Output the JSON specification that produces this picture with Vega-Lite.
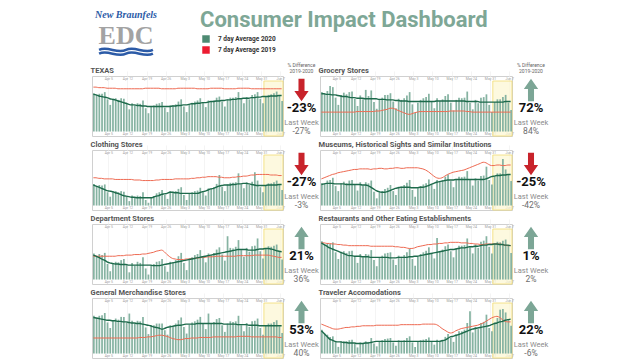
{
"$schema": "https://vega.github.io/schema/vega-lite/v6.json",
"padding": {"left": 90, "top": 0, "right": 0, "bottom": 0},
"background": "white",
"spacing": 3,
"config": {
 "font": "Roboto",
 "view": {"stroke": "#d0d0d0", "strokeWidth": 1},
 "title": {"fontSize": 7.5, "fontWeight": "bold", "color": "#555555", "anchor": "start", "offset": 2, "font": "Roboto"},
 "axisY": {"disable": true},
 "axisX": {"domain": false, "ticks": false, "labelFontSize": 3.5, "labelColor": "#a0a0a0", "labelPadding": 0.5, "offset": -5, "labelFlush": false, "labelOverlap": false, "gridColor": "#ececec", "gridWidth": 0.6},
 "bar": {"color": "#86b3a2"},
 "line": {"interpolate": "monotone"}
},
"datasets": {
"tx": [
{"d":"2020-03-30","b":69,"g":67,"r":80},{"d":"2020-03-31","b":66,"g":66,"r":80},{"d":"2020-04-01","b":68,"g":64,"r":79},{"d":"2020-04-02","b":68,"g":63,"r":79},{"d":"2020-04-03","b":71,"g":62,"r":79},{"d":"2020-04-04","b":58,"g":61,"r":78},{"d":"2020-04-05","b":48,"g":59,"r":78},
{"d":"2020-04-06","b":59,"g":58,"r":78},{"d":"2020-04-07","b":60,"g":57,"r":78},{"d":"2020-04-08","b":57,"g":55,"r":77},{"d":"2020-04-09","b":60,"g":54,"r":77},{"d":"2020-04-10","b":59,"g":52,"r":77},{"d":"2020-04-11","b":50,"g":51,"r":77},{"d":"2020-04-12","b":40,"g":49,"r":77},
{"d":"2020-04-13","b":51,"g":48,"r":77},{"d":"2020-04-14","b":47,"g":48,"r":77},{"d":"2020-04-15","b":51,"g":47,"r":77},{"d":"2020-04-16","b":50,"g":47,"r":77},{"d":"2020-04-17","b":56,"g":46,"r":77},{"d":"2020-04-18","b":42,"g":46,"r":78},{"d":"2020-04-19","b":33,"g":45,"r":78},
{"d":"2020-04-20","b":45,"g":45,"r":78},{"d":"2020-04-21","b":47,"g":45,"r":78},{"d":"2020-04-22","b":50,"g":45,"r":78},{"d":"2020-04-23","b":51,"g":45,"r":78},{"d":"2020-04-24","b":53,"g":45,"r":77},{"d":"2020-04-25","b":43,"g":45,"r":77},{"d":"2020-04-26","b":35,"g":45,"r":77},
{"d":"2020-04-27","b":47,"g":45,"r":77},{"d":"2020-04-28","b":47,"g":46,"r":77},{"d":"2020-04-29","b":49,"g":46,"r":77},{"d":"2020-04-30","b":54,"g":47,"r":78},{"d":"2020-05-01","b":58,"g":47,"r":78},{"d":"2020-05-02","b":45,"g":48,"r":78},{"d":"2020-05-03","b":35,"g":48,"r":78},
{"d":"2020-05-04","b":48,"g":49,"r":78},{"d":"2020-05-05","b":52,"g":50,"r":78},{"d":"2020-05-06","b":54,"g":50,"r":78},{"d":"2020-05-07","b":56,"g":51,"r":77},{"d":"2020-05-08","b":60,"g":51,"r":77},{"d":"2020-05-09","b":52,"g":52,"r":77},{"d":"2020-05-10","b":44,"g":52,"r":77},
{"d":"2020-05-11","b":56,"g":53,"r":77},{"d":"2020-05-12","b":54,"g":54,"r":78},{"d":"2020-05-13","b":56,"g":54,"r":78},{"d":"2020-05-14","b":61,"g":55,"r":78},{"d":"2020-05-15","b":63,"g":55,"r":78},{"d":"2020-05-16","b":54,"g":56,"r":78},{"d":"2020-05-17","b":45,"g":56,"r":77},
{"d":"2020-05-18","b":58,"g":57,"r":77},{"d":"2020-05-19","b":61,"g":57,"r":77},{"d":"2020-05-20","b":61,"g":58,"r":77},{"d":"2020-05-21","b":62,"g":58,"r":77},{"d":"2020-05-22","b":71,"g":59,"r":78},{"d":"2020-05-23","b":58,"g":59,"r":78},{"d":"2020-05-24","b":51,"g":60,"r":78},
{"d":"2020-05-25","b":62,"g":60,"r":78},{"d":"2020-05-26","b":58,"g":60,"r":78},{"d":"2020-05-27","b":66,"g":61,"r":77},{"d":"2020-05-28","b":67,"g":61,"r":77},{"d":"2020-05-29","b":71,"g":62,"r":77},{"d":"2020-05-30","b":59,"g":62,"r":77},{"d":"2020-05-31","b":51,"g":63,"r":77},
{"d":"2020-06-01","b":63,"g":63,"r":77},{"d":"2020-06-02","b":66,"g":63,"r":77},{"d":"2020-06-03","b":67,"g":64,"r":77},{"d":"2020-06-04","b":69,"g":64,"r":77},{"d":"2020-06-05","b":72,"g":64,"r":77},{"d":"2020-06-06","b":64,"g":65,"r":77},{"d":"2020-06-07","b":55,"g":65,"r":77}
],
"gr": [
{"d":"2020-03-30","b":71,"g":68,"r":35},{"d":"2020-03-31","b":68,"g":68,"r":35},{"d":"2020-04-01","b":73,"g":67,"r":35},{"d":"2020-04-02","b":82,"g":67,"r":35},{"d":"2020-04-03","b":80,"g":66,"r":35},{"d":"2020-04-04","b":61,"g":66,"r":35},{"d":"2020-04-05","b":48,"g":65,"r":35},
{"d":"2020-04-06","b":66,"g":64,"r":35},{"d":"2020-04-07","b":70,"g":63,"r":35},{"d":"2020-04-08","b":67,"g":63,"r":35},{"d":"2020-04-09","b":71,"g":62,"r":35},{"d":"2020-04-10","b":72,"g":61,"r":35},{"d":"2020-04-11","b":59,"g":61,"r":35},{"d":"2020-04-12","b":46,"g":60,"r":36},
{"d":"2020-04-13","b":65,"g":60,"r":36},{"d":"2020-04-14","b":58,"g":60,"r":36},{"d":"2020-04-15","b":75,"g":59,"r":36},{"d":"2020-04-16","b":64,"g":59,"r":36},{"d":"2020-04-17","b":74,"g":59,"r":36},{"d":"2020-04-18","b":53,"g":59,"r":36},{"d":"2020-04-19","b":41,"g":59,"r":37},
{"d":"2020-04-20","b":58,"g":58,"r":37},{"d":"2020-04-21","b":61,"g":58,"r":38},{"d":"2020-04-22","b":66,"g":58,"r":39},{"d":"2020-04-23","b":66,"g":57,"r":40},{"d":"2020-04-24","b":69,"g":57,"r":42},{"d":"2020-04-25","b":54,"g":57,"r":42},{"d":"2020-04-26","b":42,"g":56,"r":40},
{"d":"2020-04-27","b":59,"g":56,"r":38},{"d":"2020-04-28","b":57,"g":55,"r":36},{"d":"2020-04-29","b":60,"g":55,"r":34},{"d":"2020-04-30","b":65,"g":55,"r":32},{"d":"2020-05-01","b":71,"g":54,"r":31},{"d":"2020-05-02","b":49,"g":54,"r":32},{"d":"2020-05-03","b":34,"g":54,"r":34},
{"d":"2020-05-04","b":52,"g":54,"r":35},{"d":"2020-05-05","b":57,"g":54,"r":36},{"d":"2020-05-06","b":60,"g":54,"r":36},{"d":"2020-05-07","b":62,"g":54,"r":36},{"d":"2020-05-08","b":68,"g":54,"r":36},{"d":"2020-05-09","b":54,"g":54,"r":36},{"d":"2020-05-10","b":42,"g":54,"r":36},
{"d":"2020-05-11","b":60,"g":55,"r":36},{"d":"2020-05-12","b":55,"g":55,"r":36},{"d":"2020-05-13","b":58,"g":55,"r":36},{"d":"2020-05-14","b":64,"g":55,"r":36},{"d":"2020-05-15","b":67,"g":55,"r":36},{"d":"2020-05-16","b":52,"g":55,"r":37},{"d":"2020-05-17","b":38,"g":55,"r":37},
{"d":"2020-05-18","b":57,"g":55,"r":37},{"d":"2020-05-19","b":61,"g":55,"r":37},{"d":"2020-05-20","b":60,"g":55,"r":37},{"d":"2020-05-21","b":61,"g":55,"r":37},{"d":"2020-05-22","b":72,"g":54,"r":36},{"d":"2020-05-23","b":52,"g":54,"r":36},{"d":"2020-05-24","b":40,"g":54,"r":35},
{"d":"2020-05-25","b":57,"g":54,"r":35},{"d":"2020-05-26","b":51,"g":54,"r":35},{"d":"2020-05-27","b":61,"g":53,"r":35},{"d":"2020-05-28","b":62,"g":53,"r":35},{"d":"2020-05-29","b":67,"g":53,"r":35},{"d":"2020-05-30","b":48,"g":53,"r":35},{"d":"2020-05-31","b":35,"g":53,"r":35},
{"d":"2020-06-01","b":53,"g":53,"r":35},{"d":"2020-06-02","b":58,"g":53,"r":35},{"d":"2020-06-03","b":58,"g":53,"r":35},{"d":"2020-06-04","b":62,"g":53,"r":35},{"d":"2020-06-05","b":66,"g":54,"r":35},{"d":"2020-06-06","b":52,"g":54,"r":35},{"d":"2020-06-07","b":39,"g":54,"r":35}
],
"cl": [
{"d":"2020-03-30","b":39,"g":37,"r":50},{"d":"2020-03-31","b":35,"g":35,"r":50},{"d":"2020-04-01","b":37,"g":33,"r":49},{"d":"2020-04-02","b":36,"g":31,"r":49},{"d":"2020-04-03","b":38,"g":29,"r":48},{"d":"2020-04-04","b":24,"g":27,"r":48},{"d":"2020-04-05","b":16,"g":26,"r":48},
{"d":"2020-04-06","b":26,"g":25,"r":48},{"d":"2020-04-07","b":26,"g":23,"r":47},{"d":"2020-04-08","b":24,"g":22,"r":47},{"d":"2020-04-09","b":26,"g":20,"r":47},{"d":"2020-04-10","b":25,"g":18,"r":47},{"d":"2020-04-11","b":16,"g":17,"r":47},{"d":"2020-04-12","b":8,"g":16,"r":47},
{"d":"2020-04-13","b":18,"g":15,"r":47},{"d":"2020-04-14","b":14,"g":15,"r":46},{"d":"2020-04-15","b":18,"g":14,"r":46},{"d":"2020-04-16","b":17,"g":14,"r":46},{"d":"2020-04-17","b":24,"g":14,"r":45},{"d":"2020-04-18","b":10,"g":14,"r":45},{"d":"2020-04-19","b":5,"g":14,"r":45},
{"d":"2020-04-20","b":14,"g":14,"r":45},{"d":"2020-04-21","b":17,"g":15,"r":45},{"d":"2020-04-22","b":22,"g":17,"r":46},{"d":"2020-04-23","b":24,"g":18,"r":46},{"d":"2020-04-24","b":28,"g":20,"r":47},{"d":"2020-04-25","b":19,"g":21,"r":47},{"d":"2020-04-26","b":12,"g":22,"r":47},
{"d":"2020-04-27","b":26,"g":24,"r":47},{"d":"2020-04-28","b":25,"g":24,"r":47},{"d":"2020-04-29","b":26,"g":23,"r":48},{"d":"2020-04-30","b":30,"g":23,"r":48},{"d":"2020-05-01","b":33,"g":22,"r":48},{"d":"2020-05-02","b":19,"g":22,"r":48},{"d":"2020-05-03","b":10,"g":22,"r":48},
{"d":"2020-05-04","b":21,"g":22,"r":48},{"d":"2020-05-05","b":24,"g":22,"r":49},{"d":"2020-05-06","b":26,"g":22,"r":49},{"d":"2020-05-07","b":27,"g":22,"r":50},{"d":"2020-05-08","b":32,"g":23,"r":50},{"d":"2020-05-09","b":25,"g":25,"r":51},{"d":"2020-05-10","b":18,"g":26,"r":51},
{"d":"2020-05-11","b":31,"g":28,"r":52},{"d":"2020-05-12","b":30,"g":30,"r":52},{"d":"2020-05-13","b":33,"g":31,"r":52},{"d":"2020-05-14","b":39,"g":33,"r":52},{"d":"2020-05-15","b":55,"g":35,"r":51},{"d":"2020-05-16","b":34,"g":36,"r":51},{"d":"2020-05-17","b":26,"g":37,"r":50},
{"d":"2020-05-18","b":38,"g":37,"r":50},{"d":"2020-05-19","b":41,"g":37,"r":50},{"d":"2020-05-20","b":41,"g":38,"r":51},{"d":"2020-05-21","b":42,"g":38,"r":51},{"d":"2020-05-22","b":58,"g":39,"r":52},{"d":"2020-05-23","b":38,"g":39,"r":52},{"d":"2020-05-24","b":31,"g":40,"r":53},
{"d":"2020-05-25","b":42,"g":40,"r":53},{"d":"2020-05-26","b":37,"g":39,"r":54},{"d":"2020-05-27","b":43,"g":38,"r":55},{"d":"2020-05-28","b":60,"g":37,"r":55},{"d":"2020-05-29","b":45,"g":36,"r":56},{"d":"2020-05-30","b":33,"g":36,"r":56},{"d":"2020-05-31","b":24,"g":36,"r":56},
{"d":"2020-06-01","b":36,"g":36,"r":56},{"d":"2020-06-02","b":40,"g":37,"r":56},{"d":"2020-06-03","b":40,"g":37,"r":55},{"d":"2020-06-04","b":42,"g":37,"r":55},{"d":"2020-06-05","b":45,"g":37,"r":55},{"d":"2020-06-06","b":37,"g":38,"r":54},{"d":"2020-06-07","b":28,"g":38,"r":54}
],
"mu": [
{"d":"2020-03-30","b":40,"g":38,"r":48},{"d":"2020-03-31","b":39,"g":39,"r":50},{"d":"2020-04-01","b":45,"g":40,"r":52},{"d":"2020-04-02","b":46,"g":40,"r":54},{"d":"2020-04-03","b":50,"g":40,"r":56},{"d":"2020-04-04","b":35,"g":39,"r":57},{"d":"2020-04-05","b":26,"g":39,"r":59},
{"d":"2020-04-06","b":40,"g":39,"r":60},{"d":"2020-04-07","b":43,"g":39,"r":61},{"d":"2020-04-08","b":40,"g":38,"r":62},{"d":"2020-04-09","b":45,"g":38,"r":63},{"d":"2020-04-10","b":46,"g":38,"r":64},{"d":"2020-04-11","b":37,"g":38,"r":65},{"d":"2020-04-12","b":27,"g":38,"r":65},
{"d":"2020-04-13","b":42,"g":38,"r":66},{"d":"2020-04-14","b":36,"g":37,"r":66},{"d":"2020-04-15","b":42,"g":37,"r":66},{"d":"2020-04-16","b":40,"g":36,"r":66},{"d":"2020-04-17","b":45,"g":33,"r":65},{"d":"2020-04-18","b":25,"g":30,"r":66},{"d":"2020-04-19","b":13,"g":27,"r":66},
{"d":"2020-04-20","b":25,"g":25,"r":67},{"d":"2020-04-21","b":26,"g":24,"r":67},{"d":"2020-04-22","b":30,"g":24,"r":66},{"d":"2020-04-23","b":32,"g":25,"r":66},{"d":"2020-04-24","b":37,"g":27,"r":67},{"d":"2020-04-25","b":26,"g":29,"r":67},{"d":"2020-04-26","b":19,"g":31,"r":68},
{"d":"2020-04-27","b":34,"g":32,"r":68},{"d":"2020-04-28","b":34,"g":33,"r":67},{"d":"2020-04-29","b":37,"g":33,"r":67},{"d":"2020-04-30","b":41,"g":33,"r":68},{"d":"2020-05-01","b":46,"g":33,"r":68},{"d":"2020-05-02","b":28,"g":32,"r":68},{"d":"2020-05-03","b":16,"g":32,"r":68},
{"d":"2020-05-04","b":31,"g":32,"r":68},{"d":"2020-05-05","b":35,"g":33,"r":67},{"d":"2020-05-06","b":38,"g":33,"r":66},{"d":"2020-05-07","b":40,"g":34,"r":64},{"d":"2020-05-08","b":47,"g":36,"r":61},{"d":"2020-05-09","b":38,"g":38,"r":57},{"d":"2020-05-10","b":30,"g":40,"r":53},
{"d":"2020-05-11","b":46,"g":42,"r":50},{"d":"2020-05-12","b":43,"g":43,"r":49},{"d":"2020-05-13","b":46,"g":44,"r":50},{"d":"2020-05-14","b":52,"g":45,"r":53},{"d":"2020-05-15","b":56,"g":46,"r":56},{"d":"2020-05-16","b":44,"g":46,"r":58},{"d":"2020-05-17","b":33,"g":46,"r":60},
{"d":"2020-05-18","b":48,"g":47,"r":61},{"d":"2020-05-19","b":52,"g":47,"r":62},{"d":"2020-05-20","b":51,"g":47,"r":63},{"d":"2020-05-21","b":52,"g":47,"r":64},{"d":"2020-05-22","b":62,"g":47,"r":66},{"d":"2020-05-23","b":46,"g":47,"r":68},{"d":"2020-05-24","b":36,"g":47,"r":70},
{"d":"2020-05-25","b":49,"g":47,"r":72},{"d":"2020-05-26","b":45,"g":47,"r":74},{"d":"2020-05-27","b":53,"g":47,"r":76},{"d":"2020-05-28","b":54,"g":47,"r":78},{"d":"2020-05-29","b":70,"g":48,"r":77},{"d":"2020-05-30","b":46,"g":50,"r":74},{"d":"2020-05-31","b":38,"g":52,"r":72},
{"d":"2020-06-01","b":53,"g":53,"r":72},{"d":"2020-06-02","b":58,"g":54,"r":73},{"d":"2020-06-03","b":58,"g":54,"r":73},{"d":"2020-06-04","b":84,"g":55,"r":72},{"d":"2020-06-05","b":65,"g":55,"r":72},{"d":"2020-06-06","b":55,"g":56,"r":73},{"d":"2020-06-07","b":44,"g":56,"r":73}
],
"de": [
{"d":"2020-03-30","b":47,"g":44,"r":42},{"d":"2020-03-31","b":42,"g":42,"r":42},{"d":"2020-04-01","b":46,"g":40,"r":42},{"d":"2020-04-02","b":44,"g":37,"r":42},{"d":"2020-04-03","b":48,"g":35,"r":42},{"d":"2020-04-04","b":28,"g":32,"r":42},{"d":"2020-04-05","b":15,"g":30,"r":42},
{"d":"2020-04-06","b":30,"g":29,"r":42},{"d":"2020-04-07","b":32,"g":28,"r":42},{"d":"2020-04-08","b":31,"g":28,"r":43},{"d":"2020-04-09","b":35,"g":27,"r":43},{"d":"2020-04-10","b":37,"g":27,"r":43},{"d":"2020-04-11","b":26,"g":27,"r":44},{"d":"2020-04-12","b":13,"g":26,"r":44},
{"d":"2020-04-13","b":30,"g":26,"r":44},{"d":"2020-04-14","b":25,"g":26,"r":45},{"d":"2020-04-15","b":32,"g":26,"r":45},{"d":"2020-04-16","b":30,"g":26,"r":45},{"d":"2020-04-17","b":40,"g":26,"r":46},{"d":"2020-04-18","b":20,"g":26,"r":46},{"d":"2020-04-19","b":9,"g":26,"r":47},
{"d":"2020-04-20","b":26,"g":26,"r":48},{"d":"2020-04-21","b":28,"g":25,"r":49},{"d":"2020-04-22","b":32,"g":25,"r":51},{"d":"2020-04-23","b":33,"g":25,"r":52},{"d":"2020-04-24","b":37,"g":26,"r":53},{"d":"2020-04-25","b":24,"g":27,"r":50},{"d":"2020-04-26","b":14,"g":28,"r":45},
{"d":"2020-04-27","b":32,"g":29,"r":41},{"d":"2020-04-28","b":31,"g":30,"r":38},{"d":"2020-04-29","b":35,"g":31,"r":37},{"d":"2020-04-30","b":42,"g":32,"r":36},{"d":"2020-05-01","b":48,"g":33,"r":36},{"d":"2020-05-02","b":30,"g":34,"r":36},{"d":"2020-05-03","b":17,"g":35,"r":37},
{"d":"2020-05-04","b":35,"g":36,"r":37},{"d":"2020-05-05","b":40,"g":37,"r":38},{"d":"2020-05-06","b":44,"g":38,"r":38},{"d":"2020-05-07","b":46,"g":39,"r":39},{"d":"2020-05-08","b":53,"g":40,"r":39},{"d":"2020-05-09","b":41,"g":41,"r":40},{"d":"2020-05-10","b":31,"g":42,"r":40},
{"d":"2020-05-11","b":47,"g":43,"r":41},{"d":"2020-05-12","b":44,"g":44,"r":41},{"d":"2020-05-13","b":48,"g":45,"r":41},{"d":"2020-05-14","b":54,"g":46,"r":42},{"d":"2020-05-15","b":58,"g":47,"r":42},{"d":"2020-05-16","b":45,"g":48,"r":42},{"d":"2020-05-17","b":34,"g":49,"r":42},
{"d":"2020-05-18","b":78,"g":50,"r":42},{"d":"2020-05-19","b":57,"g":51,"r":42},{"d":"2020-05-20","b":56,"g":52,"r":42},{"d":"2020-05-21","b":59,"g":53,"r":42},{"d":"2020-05-22","b":71,"g":54,"r":43},{"d":"2020-05-23","b":53,"g":54,"r":43},{"d":"2020-05-24","b":41,"g":54,"r":43},
{"d":"2020-05-25","b":57,"g":54,"r":43},{"d":"2020-05-26","b":50,"g":53,"r":43},{"d":"2020-05-27","b":60,"g":53,"r":43},{"d":"2020-05-28","b":61,"g":53,"r":44},{"d":"2020-05-29","b":74,"g":54,"r":44},{"d":"2020-05-30","b":51,"g":55,"r":44},{"d":"2020-05-31","b":38,"g":55,"r":44},
{"d":"2020-06-01","b":56,"g":56,"r":44},{"d":"2020-06-02","b":60,"g":56,"r":44},{"d":"2020-06-03","b":59,"g":55,"r":43},{"d":"2020-06-04","b":61,"g":54,"r":42},{"d":"2020-06-05","b":63,"g":52,"r":41},{"d":"2020-06-06","b":50,"g":51,"r":40},{"d":"2020-06-07","b":36,"g":50,"r":40}
],
"re": [
{"d":"2020-03-30","b":69,"g":66,"r":66},{"d":"2020-03-31","b":63,"g":63,"r":66},{"d":"2020-04-01","b":65,"g":60,"r":65},{"d":"2020-04-02","b":64,"g":57,"r":65},{"d":"2020-04-03","b":67,"g":55,"r":64},{"d":"2020-04-04","b":49,"g":53,"r":64},{"d":"2020-04-05","b":37,"g":51,"r":63},
{"d":"2020-04-06","b":50,"g":49,"r":63},{"d":"2020-04-07","b":51,"g":47,"r":62},{"d":"2020-04-08","b":48,"g":45,"r":62},{"d":"2020-04-09","b":51,"g":43,"r":61},{"d":"2020-04-10","b":52,"g":43,"r":61},{"d":"2020-04-11","b":41,"g":42,"r":61},{"d":"2020-04-12","b":30,"g":42,"r":61},
{"d":"2020-04-13","b":46,"g":42,"r":61},{"d":"2020-04-14","b":40,"g":41,"r":61},{"d":"2020-04-15","b":46,"g":41,"r":61},{"d":"2020-04-16","b":45,"g":41,"r":61},{"d":"2020-04-17","b":53,"g":40,"r":60},{"d":"2020-04-18","b":35,"g":40,"r":60},{"d":"2020-04-19","b":24,"g":40,"r":60},
{"d":"2020-04-20","b":40,"g":40,"r":60},{"d":"2020-04-21","b":43,"g":40,"r":60},{"d":"2020-04-22","b":47,"g":40,"r":60},{"d":"2020-04-23","b":48,"g":40,"r":60},{"d":"2020-04-24","b":49,"g":39,"r":60},{"d":"2020-04-25","b":36,"g":39,"r":60},{"d":"2020-04-26","b":26,"g":39,"r":59},
{"d":"2020-04-27","b":43,"g":40,"r":59},{"d":"2020-04-28","b":41,"g":40,"r":58},{"d":"2020-04-29","b":44,"g":40,"r":58},{"d":"2020-04-30","b":49,"g":40,"r":57},{"d":"2020-05-01","b":55,"g":41,"r":56},{"d":"2020-05-02","b":37,"g":41,"r":56},{"d":"2020-05-03","b":25,"g":42,"r":57},
{"d":"2020-05-04","b":41,"g":42,"r":59},{"d":"2020-05-05","b":46,"g":43,"r":60},{"d":"2020-05-06","b":49,"g":44,"r":61},{"d":"2020-05-07","b":52,"g":45,"r":62},{"d":"2020-05-08","b":58,"g":46,"r":63},{"d":"2020-05-09","b":47,"g":47,"r":63},{"d":"2020-05-10","b":38,"g":48,"r":64},
{"d":"2020-05-11","b":75,"g":49,"r":64},{"d":"2020-05-12","b":50,"g":50,"r":65},{"d":"2020-05-13","b":54,"g":51,"r":65},{"d":"2020-05-14","b":60,"g":52,"r":66},{"d":"2020-05-15","b":63,"g":53,"r":66},{"d":"2020-05-16","b":51,"g":54,"r":67},{"d":"2020-05-17","b":40,"g":54,"r":67},
{"d":"2020-05-18","b":56,"g":55,"r":67},{"d":"2020-05-19","b":61,"g":56,"r":67},{"d":"2020-05-20","b":61,"g":57,"r":66},{"d":"2020-05-21","b":62,"g":57,"r":66},{"d":"2020-05-22","b":74,"g":58,"r":66},{"d":"2020-05-23","b":58,"g":59,"r":65},{"d":"2020-05-24","b":47,"g":59,"r":65},
{"d":"2020-05-25","b":63,"g":60,"r":64},{"d":"2020-05-26","b":57,"g":60,"r":64},{"d":"2020-05-27","b":68,"g":61,"r":63},{"d":"2020-05-28","b":70,"g":62,"r":63},{"d":"2020-05-29","b":78,"g":62,"r":64},{"d":"2020-05-30","b":59,"g":63,"r":64},{"d":"2020-05-31","b":47,"g":63,"r":64},
{"d":"2020-06-01","b":64,"g":64,"r":64},{"d":"2020-06-02","b":68,"g":64,"r":64},{"d":"2020-06-03","b":67,"g":63,"r":64},{"d":"2020-06-04","b":70,"g":63,"r":63},{"d":"2020-06-05","b":72,"g":62,"r":62},{"d":"2020-06-06","b":61,"g":62,"r":61},{"d":"2020-06-07","b":48,"g":61,"r":61}
],
"gm": [
{"d":"2020-03-30","b":68,"g":65,"r":28},{"d":"2020-03-31","b":64,"g":64,"r":28},{"d":"2020-04-01","b":68,"g":63,"r":28},{"d":"2020-04-02","b":69,"g":62,"r":28},{"d":"2020-04-03","b":73,"g":61,"r":28},{"d":"2020-04-04","b":56,"g":60,"r":28},{"d":"2020-04-05","b":46,"g":60,"r":28},
{"d":"2020-04-06","b":60,"g":59,"r":28},{"d":"2020-04-07","b":63,"g":59,"r":28},{"d":"2020-04-08","b":61,"g":58,"r":28},{"d":"2020-04-09","b":66,"g":58,"r":28},{"d":"2020-04-10","b":66,"g":57,"r":28},{"d":"2020-04-11","b":56,"g":57,"r":28},{"d":"2020-04-12","b":72,"g":56,"r":28},
{"d":"2020-04-13","b":59,"g":55,"r":28},{"d":"2020-04-14","b":54,"g":55,"r":28},{"d":"2020-04-15","b":59,"g":54,"r":28},{"d":"2020-04-16","b":58,"g":54,"r":29},{"d":"2020-04-17","b":66,"g":53,"r":29},{"d":"2020-04-18","b":47,"g":52,"r":29},{"d":"2020-04-19","b":35,"g":51,"r":30},
{"d":"2020-04-20","b":50,"g":50,"r":30},{"d":"2020-04-21","b":51,"g":48,"r":31},{"d":"2020-04-22","b":54,"g":47,"r":32},{"d":"2020-04-23","b":54,"g":46,"r":33},{"d":"2020-04-24","b":54,"g":44,"r":33},{"d":"2020-04-25","b":42,"g":45,"r":32},{"d":"2020-04-26","b":34,"g":47,"r":31},
{"d":"2020-04-27","b":51,"g":48,"r":29},{"d":"2020-04-28","b":50,"g":49,"r":27},{"d":"2020-04-29","b":54,"g":50,"r":26},{"d":"2020-04-30","b":60,"g":51,"r":25},{"d":"2020-05-01","b":65,"g":51,"r":25},{"d":"2020-05-02","b":48,"g":52,"r":26},{"d":"2020-05-03","b":36,"g":53,"r":27},
{"d":"2020-05-04","b":52,"g":53,"r":27},{"d":"2020-05-05","b":56,"g":53,"r":28},{"d":"2020-05-06","b":58,"g":53,"r":28},{"d":"2020-05-07","b":61,"g":54,"r":28},{"d":"2020-05-08","b":66,"g":54,"r":29},{"d":"2020-05-09","b":54,"g":54,"r":29},{"d":"2020-05-10","b":44,"g":54,"r":29},
{"d":"2020-05-11","b":72,"g":54,"r":29},{"d":"2020-05-12","b":54,"g":54,"r":29},{"d":"2020-05-13","b":57,"g":54,"r":30},{"d":"2020-05-14","b":62,"g":54,"r":30},{"d":"2020-05-15","b":64,"g":54,"r":30},{"d":"2020-05-16","b":51,"g":54,"r":30},{"d":"2020-05-17","b":39,"g":53,"r":30},
{"d":"2020-05-18","b":54,"g":53,"r":30},{"d":"2020-05-19","b":58,"g":53,"r":30},{"d":"2020-05-20","b":57,"g":53,"r":30},{"d":"2020-05-21","b":58,"g":53,"r":30},{"d":"2020-05-22","b":68,"g":52,"r":31},{"d":"2020-05-23","b":51,"g":52,"r":31},{"d":"2020-05-24","b":40,"g":52,"r":31},
{"d":"2020-05-25","b":55,"g":52,"r":31},{"d":"2020-05-26","b":48,"g":51,"r":31},{"d":"2020-05-27","b":58,"g":51,"r":30},{"d":"2020-05-28","b":59,"g":51,"r":30},{"d":"2020-05-29","b":63,"g":51,"r":30},{"d":"2020-05-30","b":46,"g":50,"r":30},{"d":"2020-05-31","b":34,"g":50,"r":30},
{"d":"2020-06-01","b":50,"g":50,"r":30},{"d":"2020-06-02","b":54,"g":50,"r":30},{"d":"2020-06-03","b":54,"g":50,"r":30},{"d":"2020-06-04","b":57,"g":50,"r":30},{"d":"2020-06-05","b":60,"g":50,"r":30},{"d":"2020-06-06","b":49,"g":50,"r":29},{"d":"2020-06-07","b":37,"g":50,"r":29}
],
"tr": [
{"d":"2020-03-30","b":43,"g":41,"r":53},{"d":"2020-03-31","b":36,"g":36,"r":51},{"d":"2020-04-01","b":34,"g":31,"r":49},{"d":"2020-04-02","b":30,"g":26,"r":47},{"d":"2020-04-03","b":31,"g":24,"r":45},{"d":"2020-04-04","b":22,"g":22,"r":44},{"d":"2020-04-05","b":12,"g":21,"r":44},
{"d":"2020-04-06","b":22,"g":21,"r":45},{"d":"2020-04-07","b":22,"g":20,"r":46},{"d":"2020-04-08","b":22,"g":20,"r":47},{"d":"2020-04-09","b":24,"g":19,"r":47},{"d":"2020-04-10","b":25,"g":19,"r":48},{"d":"2020-04-11","b":18,"g":19,"r":48},{"d":"2020-04-12","b":11,"g":18,"r":49},
{"d":"2020-04-13","b":20,"g":18,"r":49},{"d":"2020-04-14","b":17,"g":18,"r":50},{"d":"2020-04-15","b":22,"g":19,"r":50},{"d":"2020-04-16","b":21,"g":19,"r":50},{"d":"2020-04-17","b":28,"g":20,"r":50},{"d":"2020-04-18","b":18,"g":21,"r":50},{"d":"2020-04-19","b":13,"g":22,"r":51},
{"d":"2020-04-20","b":22,"g":22,"r":51},{"d":"2020-04-21","b":24,"g":22,"r":51},{"d":"2020-04-22","b":26,"g":22,"r":51},{"d":"2020-04-23","b":27,"g":22,"r":51},{"d":"2020-04-24","b":28,"g":22,"r":51},{"d":"2020-04-25","b":20,"g":22,"r":51},{"d":"2020-04-26","b":14,"g":22,"r":51},
{"d":"2020-04-27","b":24,"g":22,"r":51},{"d":"2020-04-28","b":23,"g":22,"r":52},{"d":"2020-04-29","b":24,"g":22,"r":52},{"d":"2020-04-30","b":28,"g":22,"r":52},{"d":"2020-05-01","b":31,"g":22,"r":52},{"d":"2020-05-02","b":20,"g":22,"r":52},{"d":"2020-05-03","b":12,"g":22,"r":52},
{"d":"2020-05-04","b":21,"g":22,"r":52},{"d":"2020-05-05","b":24,"g":22,"r":52},{"d":"2020-05-06","b":25,"g":22,"r":53},{"d":"2020-05-07","b":26,"g":22,"r":53},{"d":"2020-05-08","b":29,"g":22,"r":53},{"d":"2020-05-09","b":22,"g":22,"r":53},{"d":"2020-05-10","b":16,"g":22,"r":53},
{"d":"2020-05-11","b":25,"g":22,"r":52},{"d":"2020-05-12","b":22,"g":22,"r":49},{"d":"2020-05-13","b":25,"g":23,"r":45},{"d":"2020-05-14","b":30,"g":24,"r":42},{"d":"2020-05-15","b":35,"g":27,"r":39},{"d":"2020-05-16","b":28,"g":30,"r":37},{"d":"2020-05-17","b":21,"g":31,"r":38},
{"d":"2020-05-18","b":34,"g":33,"r":41},{"d":"2020-05-19","b":40,"g":34,"r":43},{"d":"2020-05-20","b":40,"g":36,"r":45},{"d":"2020-05-21","b":43,"g":38,"r":46},{"d":"2020-05-22","b":55,"g":40,"r":47},{"d":"2020-05-23","b":76,"g":42,"r":48},{"d":"2020-05-24","b":38,"g":44,"r":49},
{"d":"2020-05-25","b":48,"g":45,"r":50},{"d":"2020-05-26","b":44,"g":46,"r":51},{"d":"2020-05-27","b":55,"g":47,"r":53},{"d":"2020-05-28","b":57,"g":48,"r":55},{"d":"2020-05-29","b":70,"g":49,"r":58},{"d":"2020-05-30","b":46,"g":50,"r":61},{"d":"2020-05-31","b":40,"g":52,"r":64},
{"d":"2020-06-01","b":56,"g":54,"r":66},{"d":"2020-06-02","b":64,"g":55,"r":67},{"d":"2020-06-03","b":79,"g":57,"r":65},{"d":"2020-06-04","b":80,"g":58,"r":61},{"d":"2020-06-05","b":74,"g":60,"r":58},{"d":"2020-06-06","b":62,"g":61,"r":57},{"d":"2020-06-07","b":50,"g":62,"r":57}
]
},
"vconcat": [
{
 "width": 460, "height": 59, "view": {"stroke": null},
 "data": {"values": [{}]},
 "layer": [
  {"mark": {"type": "text", "font": "Liberation Serif", "fontStyle": "italic", "fontWeight": "bold", "fontSize": 10, "color": "#2c5ba7"},
   "encoding": {"x": {"datum": 34, "type": "quantitative", "scale": {"domain": [0, 460]}, "axis": null}, "y": {"datum": 15, "type": "quantitative", "scale": {"domain": [0, 59], "reverse": true}}, "text": {"value": "New Braunfels"}}},
  {"mark": {"type": "text", "font": "Liberation Serif", "fontWeight": "bold", "fontSize": 26, "color": "#a3a3a3"},
   "encoding": {"x": {"datum": 34, "type": "quantitative", "scale": {"domain": [0, 460]}, "axis": null}, "y": {"datum": 36, "type": "quantitative", "scale": {"domain": [0, 59], "reverse": true}}, "text": {"value": "EDC"}}},
  {"mark": {"type": "point", "shape": "M-1,-0.04C-0.67,-0.2 -0.33,0.12 0,-0.04C0.33,-0.2 0.67,0.12 1,-0.04M-1,0.1C-0.67,-0.06 -0.33,0.26 0,0.1C0.33,-0.06 0.67,0.26 1,0.1", "size": 2900, "filled": false, "stroke": "#2c5ba7", "strokeWidth": 2.5, "opacity": 1},
   "encoding": {"x": {"datum": 34, "type": "quantitative", "scale": {"domain": [0, 460]}, "axis": null}, "y": {"datum": 51, "type": "quantitative", "scale": {"domain": [0, 59], "reverse": true}}}},
  {"mark": {"type": "text", "fontSize": 22, "fontWeight": "bold", "color": "#7ea796", "align": "left"},
   "encoding": {"x": {"datum": 108, "type": "quantitative", "scale": {"domain": [0, 460]}, "axis": null}, "y": {"datum": 20, "type": "quantitative", "scale": {"domain": [0, 59], "reverse": true}}, "text": {"value": "Consumer Impact Dashboard"}}},
  {"mark": {"type": "square", "size": 56, "color": "#4d8a72", "opacity": 1},
   "encoding": {"x": {"datum": 114, "type": "quantitative", "scale": {"domain": [0, 460]}, "axis": null}, "y": {"datum": 39, "type": "quantitative", "scale": {"domain": [0, 59], "reverse": true}}}},
  {"mark": {"type": "square", "size": 56, "color": "#ec1c31", "opacity": 1},
   "encoding": {"x": {"datum": 114, "type": "quantitative", "scale": {"domain": [0, 460]}, "axis": null}, "y": {"datum": 50, "type": "quantitative", "scale": {"domain": [0, 59], "reverse": true}}}},
  {"mark": {"type": "text", "fontSize": 6.5, "fontWeight": "bold", "color": "#333333", "align": "left"},
   "encoding": {"x": {"datum": 126, "type": "quantitative", "scale": {"domain": [0, 460]}, "axis": null}, "y": {"datum": 39, "type": "quantitative", "scale": {"domain": [0, 59], "reverse": true}}, "text": {"value": "7 day Average 2020"}}},
  {"mark": {"type": "text", "fontSize": 6.5, "fontWeight": "bold", "color": "#333333", "align": "left"},
   "encoding": {"x": {"datum": 126, "type": "quantitative", "scale": {"domain": [0, 460]}, "axis": null}, "y": {"datum": 50, "type": "quantitative", "scale": {"domain": [0, 59], "reverse": true}}, "text": {"value": "7 day Average 2019"}}}
 ]
},
{"hconcat": [
 {"data": {"name": "tx"}, "title": "TEXAS", "width": 191, "height": 60, "layer": [
  {"data": {"values": [{"s": "2020-06-01", "e": "2020-06-08"}]}, "mark": {"type": "rect", "fill": "#fcf6d2", "fillOpacity": 0.7, "stroke": "#f1dc72", "strokeWidth": 0.8}, "encoding": {"x": {"field": "s", "type": "temporal", "timeUnit": "utcyearmonthdate", "axis": null}, "x2": {"field": "e", "timeUnit": "utcyearmonthdate"}, "y": {"datum": -8, "type": "quantitative", "scale": {"domain": [-8, 100], "nice": false}}, "y2": {"datum": 91}}},
  {"mark": "bar", "encoding": {"x": {"field": "d", "type": "temporal", "timeUnit": "utcyearmonthdate", "axis": {"orient": "bottom", "title": null, "format": "%b %-d", "tickCount": {"interval": "week"}, "grid": true}}, "y": {"field": "b", "type": "quantitative", "scale": {"domain": [-8, 100], "nice": false}}}},
  {"mark": {"type": "line", "color": "#ee6a52", "strokeWidth": 1}, "encoding": {"x": {"field": "d", "type": "temporal", "timeUnit": "utcyearmonthdate", "bandPosition": 0.5, "axis": {"orient": "top", "title": null, "format": "%b %-d", "tickCount": {"interval": "week"}, "grid": false}}, "y": {"field": "r", "type": "quantitative", "scale": {"domain": [-8, 100], "nice": false}}}},
  {"mark": {"type": "line", "color": "#1d6a4b", "strokeWidth": 1.4}, "encoding": {"x": {"field": "d", "type": "temporal", "timeUnit": "utcyearmonthdate", "bandPosition": 0.5, "axis": null}, "y": {"field": "g", "type": "quantitative", "scale": {"domain": [-8, 100], "nice": false}}}}
 ]},
 {"width": 37, "height": 60, "view": {"stroke": null}, "data": {"values": [{"pct": "-23%", "lw": "-27%", "dir": "down"}]},
  "encoding": {"x": {"datum": 18.5, "type": "quantitative", "scale": {"domain": [0, 37]}, "axis": null}},
  "layer": [
   {"mark": {"type": "text", "fontSize": 5, "color": "#666666"}, "encoding": {"y": {"datum": -11, "type": "quantitative", "scale": {"domain": [0, 60], "reverse": true}}, "text": {"value": "% Difference"}}},
   {"mark": {"type": "text", "fontSize": 5, "color": "#666666"}, "encoding": {"y": {"datum": -5, "type": "quantitative"}, "text": {"value": "2019-2020"}}},
   {"mark": {"type": "point", "filled": true, "size": 500, "opacity": 1, "strokeWidth": 0}, "encoding": {"y": {"datum": 14, "type": "quantitative"}, "shape": {"field": "dir", "type": "nominal", "scale": {"domain": ["down", "up"], "range": ["M-0.27,-1L0.27,-1L0.27,0.1L0.64,0.1L0,1L-0.64,0.1L-0.27,0.1Z", "M-0.27,1L0.27,1L0.27,-0.1L0.64,-0.1L0,-1L-0.64,-0.1L-0.27,-0.1Z"]}, "legend": null}, "color": {"field": "dir", "type": "nominal", "scale": {"domain": ["down", "up"], "range": ["#c8232b", "#7ca696"]}, "legend": null}}},
   {"mark": {"type": "text", "fontSize": 13, "fontWeight": "bold", "color": "#111111"}, "encoding": {"y": {"datum": 32, "type": "quantitative"}, "text": {"field": "pct"}}},
   {"mark": {"type": "text", "fontSize": 7.5, "color": "#8c8c8c"}, "encoding": {"y": {"datum": 47, "type": "quantitative"}, "text": {"value": "Last Week"}}},
   {"mark": {"type": "text", "fontSize": 8.5, "color": "#6e6e6e"}, "encoding": {"y": {"datum": 55, "type": "quantitative"}, "text": {"field": "lw"}}}
  ]},
 {"data": {"name": "gr"}, "title": "Grocery Stores", "width": 192, "height": 60, "layer": [
  {"data": {"values": [{"s": "2020-06-01", "e": "2020-06-08"}]}, "mark": {"type": "rect", "fill": "#fcf6d2", "fillOpacity": 0.7, "stroke": "#f1dc72", "strokeWidth": 0.8}, "encoding": {"x": {"field": "s", "type": "temporal", "timeUnit": "utcyearmonthdate", "axis": null}, "x2": {"field": "e", "timeUnit": "utcyearmonthdate"}, "y": {"datum": -8, "type": "quantitative", "scale": {"domain": [-8, 100], "nice": false}}, "y2": {"datum": 91}}},
  {"mark": "bar", "encoding": {"x": {"field": "d", "type": "temporal", "timeUnit": "utcyearmonthdate", "axis": {"orient": "bottom", "title": null, "format": "%b %-d", "tickCount": {"interval": "week"}, "grid": true}}, "y": {"field": "b", "type": "quantitative", "scale": {"domain": [-8, 100], "nice": false}}}},
  {"mark": {"type": "line", "color": "#ee6a52", "strokeWidth": 1}, "encoding": {"x": {"field": "d", "type": "temporal", "timeUnit": "utcyearmonthdate", "bandPosition": 0.5, "axis": {"orient": "top", "title": null, "format": "%b %-d", "tickCount": {"interval": "week"}, "grid": false}}, "y": {"field": "r", "type": "quantitative", "scale": {"domain": [-8, 100], "nice": false}}}},
  {"mark": {"type": "line", "color": "#1d6a4b", "strokeWidth": 1.4}, "encoding": {"x": {"field": "d", "type": "temporal", "timeUnit": "utcyearmonthdate", "bandPosition": 0.5, "axis": null}, "y": {"field": "g", "type": "quantitative", "scale": {"domain": [-8, 100], "nice": false}}}}
 ]},
 {"width": 38, "height": 60, "view": {"stroke": null}, "data": {"values": [{"pct": "72%", "lw": "84%", "dir": "up"}]},
  "encoding": {"x": {"datum": 19, "type": "quantitative", "scale": {"domain": [0, 38]}, "axis": null}},
  "layer": [
   {"mark": {"type": "text", "fontSize": 5, "color": "#666666"}, "encoding": {"y": {"datum": -11, "type": "quantitative", "scale": {"domain": [0, 60], "reverse": true}}, "text": {"value": "% Difference"}}},
   {"mark": {"type": "text", "fontSize": 5, "color": "#666666"}, "encoding": {"y": {"datum": -5, "type": "quantitative"}, "text": {"value": "2019-2020"}}},
   {"mark": {"type": "point", "filled": true, "size": 500, "opacity": 1, "strokeWidth": 0}, "encoding": {"y": {"datum": 14, "type": "quantitative"}, "shape": {"field": "dir", "type": "nominal", "scale": {"domain": ["down", "up"], "range": ["M-0.27,-1L0.27,-1L0.27,0.1L0.64,0.1L0,1L-0.64,0.1L-0.27,0.1Z", "M-0.27,1L0.27,1L0.27,-0.1L0.64,-0.1L0,-1L-0.64,-0.1L-0.27,-0.1Z"]}, "legend": null}, "color": {"field": "dir", "type": "nominal", "scale": {"domain": ["down", "up"], "range": ["#c8232b", "#7ca696"]}, "legend": null}}},
   {"mark": {"type": "text", "fontSize": 13, "fontWeight": "bold", "color": "#111111"}, "encoding": {"y": {"datum": 32, "type": "quantitative"}, "text": {"field": "pct"}}},
   {"mark": {"type": "text", "fontSize": 7.5, "color": "#8c8c8c"}, "encoding": {"y": {"datum": 47, "type": "quantitative"}, "text": {"value": "Last Week"}}},
   {"mark": {"type": "text", "fontSize": 8.5, "color": "#6e6e6e"}, "encoding": {"y": {"datum": 55, "type": "quantitative"}, "text": {"field": "lw"}}}
  ]}
], "spacing": 0, "bounds": "flush"},
{"hconcat": [
 {"data": {"name": "cl"}, "title": "Clothing Stores", "width": 191, "height": 60, "layer": [
  {"data": {"values": [{"s": "2020-06-01", "e": "2020-06-08"}]}, "mark": {"type": "rect", "fill": "#fcf6d2", "fillOpacity": 0.7, "stroke": "#f1dc72", "strokeWidth": 0.8}, "encoding": {"x": {"field": "s", "type": "temporal", "timeUnit": "utcyearmonthdate", "axis": null}, "x2": {"field": "e", "timeUnit": "utcyearmonthdate"}, "y": {"datum": -8, "type": "quantitative", "scale": {"domain": [-8, 100], "nice": false}}, "y2": {"datum": 91}}},
  {"mark": "bar", "encoding": {"x": {"field": "d", "type": "temporal", "timeUnit": "utcyearmonthdate", "axis": {"orient": "bottom", "title": null, "format": "%b %-d", "tickCount": {"interval": "week"}, "grid": true}}, "y": {"field": "b", "type": "quantitative", "scale": {"domain": [-8, 100], "nice": false}}}},
  {"mark": {"type": "line", "color": "#ee6a52", "strokeWidth": 1}, "encoding": {"x": {"field": "d", "type": "temporal", "timeUnit": "utcyearmonthdate", "bandPosition": 0.5, "axis": {"orient": "top", "title": null, "format": "%b %-d", "tickCount": {"interval": "week"}, "grid": false}}, "y": {"field": "r", "type": "quantitative", "scale": {"domain": [-8, 100], "nice": false}}}},
  {"mark": {"type": "line", "color": "#1d6a4b", "strokeWidth": 1.4}, "encoding": {"x": {"field": "d", "type": "temporal", "timeUnit": "utcyearmonthdate", "bandPosition": 0.5, "axis": null}, "y": {"field": "g", "type": "quantitative", "scale": {"domain": [-8, 100], "nice": false}}}}
 ]},
 {"width": 37, "height": 60, "view": {"stroke": null}, "data": {"values": [{"pct": "-27%", "lw": "-3%", "dir": "down"}]},
  "encoding": {"x": {"datum": 18.5, "type": "quantitative", "scale": {"domain": [0, 37]}, "axis": null}},
  "layer": [
   {"mark": {"type": "point", "filled": true, "size": 500, "opacity": 1, "strokeWidth": 0}, "encoding": {"y": {"datum": 14, "type": "quantitative", "scale": {"domain": [0, 60], "reverse": true}}, "shape": {"field": "dir", "type": "nominal", "scale": {"domain": ["down", "up"], "range": ["M-0.27,-1L0.27,-1L0.27,0.1L0.64,0.1L0,1L-0.64,0.1L-0.27,0.1Z", "M-0.27,1L0.27,1L0.27,-0.1L0.64,-0.1L0,-1L-0.64,-0.1L-0.27,-0.1Z"]}, "legend": null}, "color": {"field": "dir", "type": "nominal", "scale": {"domain": ["down", "up"], "range": ["#c8232b", "#7ca696"]}, "legend": null}}},
   {"mark": {"type": "text", "fontSize": 13, "fontWeight": "bold", "color": "#111111"}, "encoding": {"y": {"datum": 32, "type": "quantitative"}, "text": {"field": "pct"}}},
   {"mark": {"type": "text", "fontSize": 7.5, "color": "#8c8c8c"}, "encoding": {"y": {"datum": 47, "type": "quantitative"}, "text": {"value": "Last Week"}}},
   {"mark": {"type": "text", "fontSize": 8.5, "color": "#6e6e6e"}, "encoding": {"y": {"datum": 55, "type": "quantitative"}, "text": {"field": "lw"}}}
  ]},
 {"data": {"name": "mu"}, "title": "Museums, Historical Sights and Similar Institutions", "width": 192, "height": 60, "layer": [
  {"data": {"values": [{"s": "2020-06-01", "e": "2020-06-08"}]}, "mark": {"type": "rect", "fill": "#fcf6d2", "fillOpacity": 0.7, "stroke": "#f1dc72", "strokeWidth": 0.8}, "encoding": {"x": {"field": "s", "type": "temporal", "timeUnit": "utcyearmonthdate", "axis": null}, "x2": {"field": "e", "timeUnit": "utcyearmonthdate"}, "y": {"datum": -8, "type": "quantitative", "scale": {"domain": [-8, 100], "nice": false}}, "y2": {"datum": 91}}},
  {"mark": "bar", "encoding": {"x": {"field": "d", "type": "temporal", "timeUnit": "utcyearmonthdate", "axis": {"orient": "bottom", "title": null, "format": "%b %-d", "tickCount": {"interval": "week"}, "grid": true}}, "y": {"field": "b", "type": "quantitative", "scale": {"domain": [-8, 100], "nice": false}}}},
  {"mark": {"type": "line", "color": "#ee6a52", "strokeWidth": 1}, "encoding": {"x": {"field": "d", "type": "temporal", "timeUnit": "utcyearmonthdate", "bandPosition": 0.5, "axis": {"orient": "top", "title": null, "format": "%b %-d", "tickCount": {"interval": "week"}, "grid": false}}, "y": {"field": "r", "type": "quantitative", "scale": {"domain": [-8, 100], "nice": false}}}},
  {"mark": {"type": "line", "color": "#1d6a4b", "strokeWidth": 1.4}, "encoding": {"x": {"field": "d", "type": "temporal", "timeUnit": "utcyearmonthdate", "bandPosition": 0.5, "axis": null}, "y": {"field": "g", "type": "quantitative", "scale": {"domain": [-8, 100], "nice": false}}}}
 ]},
 {"width": 38, "height": 60, "view": {"stroke": null}, "data": {"values": [{"pct": "-25%", "lw": "-42%", "dir": "down"}]},
  "encoding": {"x": {"datum": 19, "type": "quantitative", "scale": {"domain": [0, 38]}, "axis": null}},
  "layer": [
   {"mark": {"type": "point", "filled": true, "size": 500, "opacity": 1, "strokeWidth": 0}, "encoding": {"y": {"datum": 14, "type": "quantitative", "scale": {"domain": [0, 60], "reverse": true}}, "shape": {"field": "dir", "type": "nominal", "scale": {"domain": ["down", "up"], "range": ["M-0.27,-1L0.27,-1L0.27,0.1L0.64,0.1L0,1L-0.64,0.1L-0.27,0.1Z", "M-0.27,1L0.27,1L0.27,-0.1L0.64,-0.1L0,-1L-0.64,-0.1L-0.27,-0.1Z"]}, "legend": null}, "color": {"field": "dir", "type": "nominal", "scale": {"domain": ["down", "up"], "range": ["#c8232b", "#7ca696"]}, "legend": null}}},
   {"mark": {"type": "text", "fontSize": 13, "fontWeight": "bold", "color": "#111111"}, "encoding": {"y": {"datum": 32, "type": "quantitative"}, "text": {"field": "pct"}}},
   {"mark": {"type": "text", "fontSize": 7.5, "color": "#8c8c8c"}, "encoding": {"y": {"datum": 47, "type": "quantitative"}, "text": {"value": "Last Week"}}},
   {"mark": {"type": "text", "fontSize": 8.5, "color": "#6e6e6e"}, "encoding": {"y": {"datum": 55, "type": "quantitative"}, "text": {"field": "lw"}}}
  ]}
], "spacing": 0, "bounds": "flush"},
{"hconcat": [
 {"data": {"name": "de"}, "title": "Department Stores", "width": 191, "height": 60, "layer": [
  {"data": {"values": [{"s": "2020-06-01", "e": "2020-06-08"}]}, "mark": {"type": "rect", "fill": "#fcf6d2", "fillOpacity": 0.7, "stroke": "#f1dc72", "strokeWidth": 0.8}, "encoding": {"x": {"field": "s", "type": "temporal", "timeUnit": "utcyearmonthdate", "axis": null}, "x2": {"field": "e", "timeUnit": "utcyearmonthdate"}, "y": {"datum": -8, "type": "quantitative", "scale": {"domain": [-8, 100], "nice": false}}, "y2": {"datum": 91}}},
  {"mark": "bar", "encoding": {"x": {"field": "d", "type": "temporal", "timeUnit": "utcyearmonthdate", "axis": {"orient": "bottom", "title": null, "format": "%b %-d", "tickCount": {"interval": "week"}, "grid": true}}, "y": {"field": "b", "type": "quantitative", "scale": {"domain": [-8, 100], "nice": false}}}},
  {"mark": {"type": "line", "color": "#ee6a52", "strokeWidth": 1}, "encoding": {"x": {"field": "d", "type": "temporal", "timeUnit": "utcyearmonthdate", "bandPosition": 0.5, "axis": {"orient": "top", "title": null, "format": "%b %-d", "tickCount": {"interval": "week"}, "grid": false}}, "y": {"field": "r", "type": "quantitative", "scale": {"domain": [-8, 100], "nice": false}}}},
  {"mark": {"type": "line", "color": "#1d6a4b", "strokeWidth": 1.4}, "encoding": {"x": {"field": "d", "type": "temporal", "timeUnit": "utcyearmonthdate", "bandPosition": 0.5, "axis": null}, "y": {"field": "g", "type": "quantitative", "scale": {"domain": [-8, 100], "nice": false}}}}
 ]},
 {"width": 37, "height": 60, "view": {"stroke": null}, "data": {"values": [{"pct": "21%", "lw": "36%", "dir": "up"}]},
  "encoding": {"x": {"datum": 18.5, "type": "quantitative", "scale": {"domain": [0, 37]}, "axis": null}},
  "layer": [
   {"mark": {"type": "point", "filled": true, "size": 500, "opacity": 1, "strokeWidth": 0}, "encoding": {"y": {"datum": 14, "type": "quantitative", "scale": {"domain": [0, 60], "reverse": true}}, "shape": {"field": "dir", "type": "nominal", "scale": {"domain": ["down", "up"], "range": ["M-0.27,-1L0.27,-1L0.27,0.1L0.64,0.1L0,1L-0.64,0.1L-0.27,0.1Z", "M-0.27,1L0.27,1L0.27,-0.1L0.64,-0.1L0,-1L-0.64,-0.1L-0.27,-0.1Z"]}, "legend": null}, "color": {"field": "dir", "type": "nominal", "scale": {"domain": ["down", "up"], "range": ["#c8232b", "#7ca696"]}, "legend": null}}},
   {"mark": {"type": "text", "fontSize": 13, "fontWeight": "bold", "color": "#111111"}, "encoding": {"y": {"datum": 32, "type": "quantitative"}, "text": {"field": "pct"}}},
   {"mark": {"type": "text", "fontSize": 7.5, "color": "#8c8c8c"}, "encoding": {"y": {"datum": 47, "type": "quantitative"}, "text": {"value": "Last Week"}}},
   {"mark": {"type": "text", "fontSize": 8.5, "color": "#6e6e6e"}, "encoding": {"y": {"datum": 55, "type": "quantitative"}, "text": {"field": "lw"}}}
  ]},
 {"data": {"name": "re"}, "title": "Restaurants and Other Eating Establishments", "width": 192, "height": 60, "layer": [
  {"data": {"values": [{"s": "2020-06-01", "e": "2020-06-08"}]}, "mark": {"type": "rect", "fill": "#fcf6d2", "fillOpacity": 0.7, "stroke": "#f1dc72", "strokeWidth": 0.8}, "encoding": {"x": {"field": "s", "type": "temporal", "timeUnit": "utcyearmonthdate", "axis": null}, "x2": {"field": "e", "timeUnit": "utcyearmonthdate"}, "y": {"datum": -8, "type": "quantitative", "scale": {"domain": [-8, 100], "nice": false}}, "y2": {"datum": 91}}},
  {"mark": "bar", "encoding": {"x": {"field": "d", "type": "temporal", "timeUnit": "utcyearmonthdate", "axis": {"orient": "bottom", "title": null, "format": "%b %-d", "tickCount": {"interval": "week"}, "grid": true}}, "y": {"field": "b", "type": "quantitative", "scale": {"domain": [-8, 100], "nice": false}}}},
  {"mark": {"type": "line", "color": "#ee6a52", "strokeWidth": 1}, "encoding": {"x": {"field": "d", "type": "temporal", "timeUnit": "utcyearmonthdate", "bandPosition": 0.5, "axis": {"orient": "top", "title": null, "format": "%b %-d", "tickCount": {"interval": "week"}, "grid": false}}, "y": {"field": "r", "type": "quantitative", "scale": {"domain": [-8, 100], "nice": false}}}},
  {"mark": {"type": "line", "color": "#1d6a4b", "strokeWidth": 1.4}, "encoding": {"x": {"field": "d", "type": "temporal", "timeUnit": "utcyearmonthdate", "bandPosition": 0.5, "axis": null}, "y": {"field": "g", "type": "quantitative", "scale": {"domain": [-8, 100], "nice": false}}}}
 ]},
 {"width": 38, "height": 60, "view": {"stroke": null}, "data": {"values": [{"pct": "1%", "lw": "2%", "dir": "up"}]},
  "encoding": {"x": {"datum": 19, "type": "quantitative", "scale": {"domain": [0, 38]}, "axis": null}},
  "layer": [
   {"mark": {"type": "point", "filled": true, "size": 500, "opacity": 1, "strokeWidth": 0}, "encoding": {"y": {"datum": 14, "type": "quantitative", "scale": {"domain": [0, 60], "reverse": true}}, "shape": {"field": "dir", "type": "nominal", "scale": {"domain": ["down", "up"], "range": ["M-0.27,-1L0.27,-1L0.27,0.1L0.64,0.1L0,1L-0.64,0.1L-0.27,0.1Z", "M-0.27,1L0.27,1L0.27,-0.1L0.64,-0.1L0,-1L-0.64,-0.1L-0.27,-0.1Z"]}, "legend": null}, "color": {"field": "dir", "type": "nominal", "scale": {"domain": ["down", "up"], "range": ["#c8232b", "#7ca696"]}, "legend": null}}},
   {"mark": {"type": "text", "fontSize": 13, "fontWeight": "bold", "color": "#111111"}, "encoding": {"y": {"datum": 32, "type": "quantitative"}, "text": {"field": "pct"}}},
   {"mark": {"type": "text", "fontSize": 7.5, "color": "#8c8c8c"}, "encoding": {"y": {"datum": 47, "type": "quantitative"}, "text": {"value": "Last Week"}}},
   {"mark": {"type": "text", "fontSize": 8.5, "color": "#6e6e6e"}, "encoding": {"y": {"datum": 55, "type": "quantitative"}, "text": {"field": "lw"}}}
  ]}
], "spacing": 0, "bounds": "flush"},
{"hconcat": [
 {"data": {"name": "gm"}, "title": "General Merchandise Stores", "width": 191, "height": 60, "layer": [
  {"data": {"values": [{"s": "2020-06-01", "e": "2020-06-08"}]}, "mark": {"type": "rect", "fill": "#fcf6d2", "fillOpacity": 0.7, "stroke": "#f1dc72", "strokeWidth": 0.8}, "encoding": {"x": {"field": "s", "type": "temporal", "timeUnit": "utcyearmonthdate", "axis": null}, "x2": {"field": "e", "timeUnit": "utcyearmonthdate"}, "y": {"datum": -8, "type": "quantitative", "scale": {"domain": [-8, 100], "nice": false}}, "y2": {"datum": 91}}},
  {"mark": "bar", "encoding": {"x": {"field": "d", "type": "temporal", "timeUnit": "utcyearmonthdate", "axis": {"orient": "bottom", "title": null, "format": "%b %-d", "tickCount": {"interval": "week"}, "grid": true}}, "y": {"field": "b", "type": "quantitative", "scale": {"domain": [-8, 100], "nice": false}}}},
  {"mark": {"type": "line", "color": "#ee6a52", "strokeWidth": 1}, "encoding": {"x": {"field": "d", "type": "temporal", "timeUnit": "utcyearmonthdate", "bandPosition": 0.5, "axis": {"orient": "top", "title": null, "format": "%b %-d", "tickCount": {"interval": "week"}, "grid": false}}, "y": {"field": "r", "type": "quantitative", "scale": {"domain": [-8, 100], "nice": false}}}},
  {"mark": {"type": "line", "color": "#1d6a4b", "strokeWidth": 1.4}, "encoding": {"x": {"field": "d", "type": "temporal", "timeUnit": "utcyearmonthdate", "bandPosition": 0.5, "axis": null}, "y": {"field": "g", "type": "quantitative", "scale": {"domain": [-8, 100], "nice": false}}}}
 ]},
 {"width": 37, "height": 60, "view": {"stroke": null}, "data": {"values": [{"pct": "53%", "lw": "40%", "dir": "up"}]},
  "encoding": {"x": {"datum": 18.5, "type": "quantitative", "scale": {"domain": [0, 37]}, "axis": null}},
  "layer": [
   {"mark": {"type": "point", "filled": true, "size": 500, "opacity": 1, "strokeWidth": 0}, "encoding": {"y": {"datum": 14, "type": "quantitative", "scale": {"domain": [0, 60], "reverse": true}}, "shape": {"field": "dir", "type": "nominal", "scale": {"domain": ["down", "up"], "range": ["M-0.27,-1L0.27,-1L0.27,0.1L0.64,0.1L0,1L-0.64,0.1L-0.27,0.1Z", "M-0.27,1L0.27,1L0.27,-0.1L0.64,-0.1L0,-1L-0.64,-0.1L-0.27,-0.1Z"]}, "legend": null}, "color": {"field": "dir", "type": "nominal", "scale": {"domain": ["down", "up"], "range": ["#c8232b", "#7ca696"]}, "legend": null}}},
   {"mark": {"type": "text", "fontSize": 13, "fontWeight": "bold", "color": "#111111"}, "encoding": {"y": {"datum": 32, "type": "quantitative"}, "text": {"field": "pct"}}},
   {"mark": {"type": "text", "fontSize": 7.5, "color": "#8c8c8c"}, "encoding": {"y": {"datum": 47, "type": "quantitative"}, "text": {"value": "Last Week"}}},
   {"mark": {"type": "text", "fontSize": 8.5, "color": "#6e6e6e"}, "encoding": {"y": {"datum": 55, "type": "quantitative"}, "text": {"field": "lw"}}}
  ]},
 {"data": {"name": "tr"}, "title": "Traveler Accomodations", "width": 192, "height": 60, "layer": [
  {"data": {"values": [{"s": "2020-06-01", "e": "2020-06-08"}]}, "mark": {"type": "rect", "fill": "#fcf6d2", "fillOpacity": 0.7, "stroke": "#f1dc72", "strokeWidth": 0.8}, "encoding": {"x": {"field": "s", "type": "temporal", "timeUnit": "utcyearmonthdate", "axis": null}, "x2": {"field": "e", "timeUnit": "utcyearmonthdate"}, "y": {"datum": -8, "type": "quantitative", "scale": {"domain": [-8, 100], "nice": false}}, "y2": {"datum": 91}}},
  {"mark": "bar", "encoding": {"x": {"field": "d", "type": "temporal", "timeUnit": "utcyearmonthdate", "axis": {"orient": "bottom", "title": null, "format": "%b %-d", "tickCount": {"interval": "week"}, "grid": true}}, "y": {"field": "b", "type": "quantitative", "scale": {"domain": [-8, 100], "nice": false}}}},
  {"mark": {"type": "line", "color": "#ee6a52", "strokeWidth": 1}, "encoding": {"x": {"field": "d", "type": "temporal", "timeUnit": "utcyearmonthdate", "bandPosition": 0.5, "axis": {"orient": "top", "title": null, "format": "%b %-d", "tickCount": {"interval": "week"}, "grid": false}}, "y": {"field": "r", "type": "quantitative", "scale": {"domain": [-8, 100], "nice": false}}}},
  {"mark": {"type": "line", "color": "#1d6a4b", "strokeWidth": 1.4}, "encoding": {"x": {"field": "d", "type": "temporal", "timeUnit": "utcyearmonthdate", "bandPosition": 0.5, "axis": null}, "y": {"field": "g", "type": "quantitative", "scale": {"domain": [-8, 100], "nice": false}}}}
 ]},
 {"width": 38, "height": 60, "view": {"stroke": null}, "data": {"values": [{"pct": "22%", "lw": "-6%", "dir": "up"}]},
  "encoding": {"x": {"datum": 19, "type": "quantitative", "scale": {"domain": [0, 38]}, "axis": null}},
  "layer": [
   {"mark": {"type": "point", "filled": true, "size": 500, "opacity": 1, "strokeWidth": 0}, "encoding": {"y": {"datum": 14, "type": "quantitative", "scale": {"domain": [0, 60], "reverse": true}}, "shape": {"field": "dir", "type": "nominal", "scale": {"domain": ["down", "up"], "range": ["M-0.27,-1L0.27,-1L0.27,0.1L0.64,0.1L0,1L-0.64,0.1L-0.27,0.1Z", "M-0.27,1L0.27,1L0.27,-0.1L0.64,-0.1L0,-1L-0.64,-0.1L-0.27,-0.1Z"]}, "legend": null}, "color": {"field": "dir", "type": "nominal", "scale": {"domain": ["down", "up"], "range": ["#c8232b", "#7ca696"]}, "legend": null}}},
   {"mark": {"type": "text", "fontSize": 13, "fontWeight": "bold", "color": "#111111"}, "encoding": {"y": {"datum": 32, "type": "quantitative"}, "text": {"field": "pct"}}},
   {"mark": {"type": "text", "fontSize": 7.5, "color": "#8c8c8c"}, "encoding": {"y": {"datum": 47, "type": "quantitative"}, "text": {"value": "Last Week"}}},
   {"mark": {"type": "text", "fontSize": 8.5, "color": "#6e6e6e"}, "encoding": {"y": {"datum": 55, "type": "quantitative"}, "text": {"field": "lw"}}}
  ]}
], "spacing": 0, "bounds": "flush"}
]
}
